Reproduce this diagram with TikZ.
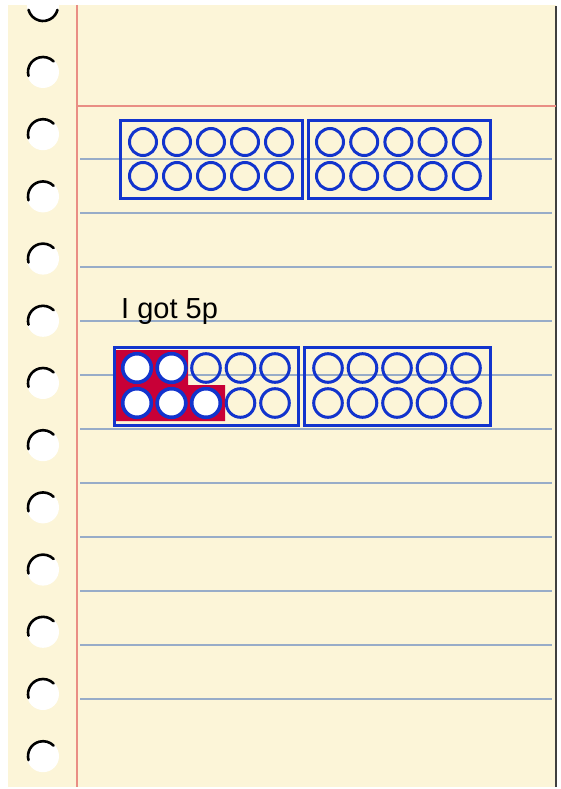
\documentclass[tikz,border=0pt]{standalone}
\usepackage{xcolor}
\usepackage{fontspec}
\usepackage{tikz}
\usetikzlibrary{positioning}

\newfontfamily\handfont{Liberation Sans}

\definecolor{paperyellow}{RGB}{252,245,216}
\definecolor{marginred}{RGB}{233,142,132}
\definecolor{ruleblue}{RGB}{152,172,200}
\definecolor{frameblue}{RGB}{18,52,205}
\definecolor{counterred}{RGB}{200,0,55}

\begin{document}
\begin{tikzpicture}[
    x=1pt, y=-1pt,
    paper/.style={fill=paperyellow},
    papershadow/.style={draw=black!75, line width=1.6pt},
    ruling/.style={draw=ruleblue, line width=2.2pt},
    marginline/.style={draw=marginred, line width=1.6pt},
    hole/.style={fill=white},
    holerim/.style={draw=black, line width=2.6pt, line cap=round},
    tenframe/.style={draw=frameblue, line width=3pt},
    spot/.style={draw=frameblue, line width=3pt},
    counter/.style={draw=frameblue, fill=white, line width=3.6pt},
    counterbg/.style={fill=counterred},
    handtext/.style={font=\handfont\fontsize{29}{31}\selectfont, anchor=base west, inner sep=0pt}
]
    % Page and paper sheet
    \useasboundingbox (0,0) rectangle (560,789);
    \fill[white] (0,0) rectangle (560,789);
    \fill[paper] (8,5) rectangle (556,787);
    \draw[papershadow] (556,6) -- (556,787);

    % Ruled lines
    \foreach \k in {0,...,10}
        \draw[ruling] (80,159+54*\k) -- (552,159+54*\k);

    % Margin lines
    \draw[marginline] (77,5) -- (77,787);
    \draw[marginline] (77,106) -- (556,106);

    % Punched holes
    \fill[hole] (43,6) circle[radius=16];
    \draw[holerim] (43,6) ++(15:15) arc[start angle=15, end angle=165, radius=15];
    \foreach \k in {0,...,11} {
        \fill[hole] (43,72+62.2*\k) circle[radius=16];
        \draw[holerim] (43,72+62.2*\k) ++(165:15) arc[start angle=165, end angle=315, radius=15];
    }

    % Top ten frames (empty)
    \draw[tenframe] (120,121) rectangle (302,198);
    \draw[tenframe] (308,121) rectangle (490,198);
    \foreach \col in {0,...,4}
        \foreach \row in {0,1} {
            \draw[spot] (143+34*\col,142+34*\row) circle[radius=13.5];
            \draw[spot] (330+34.2*\col,142+34*\row) circle[radius=13.5];
        }

    % Label
    \node (got_lbl) [handtext] at (121,318) {I got 5p};

    % Bottom ten frames with counters
    \fill[counterbg] (116,350) -- (188,350) -- (188,385) -- (225,385) -- (225,421) -- (116,421) -- cycle;
    \draw[tenframe] (114,347) rectangle (298,425);
    \draw[tenframe] (304,347) rectangle (490,425);
    \foreach \col in {0,...,4}
        \foreach \row in {0,1} {
            \draw[spot] (137+34.5*\col,368+35*\row) circle[radius=14.3];
            \draw[spot] (328+34.5*\col,368+35*\row) circle[radius=14.3];
        }
    \foreach \col/\row in {0/0,1/0,0/1,1/1,2/1}
        \draw[counter] (137+34.5*\col,368+35*\row) circle[radius=14.3];

\end{tikzpicture}
\end{document}
